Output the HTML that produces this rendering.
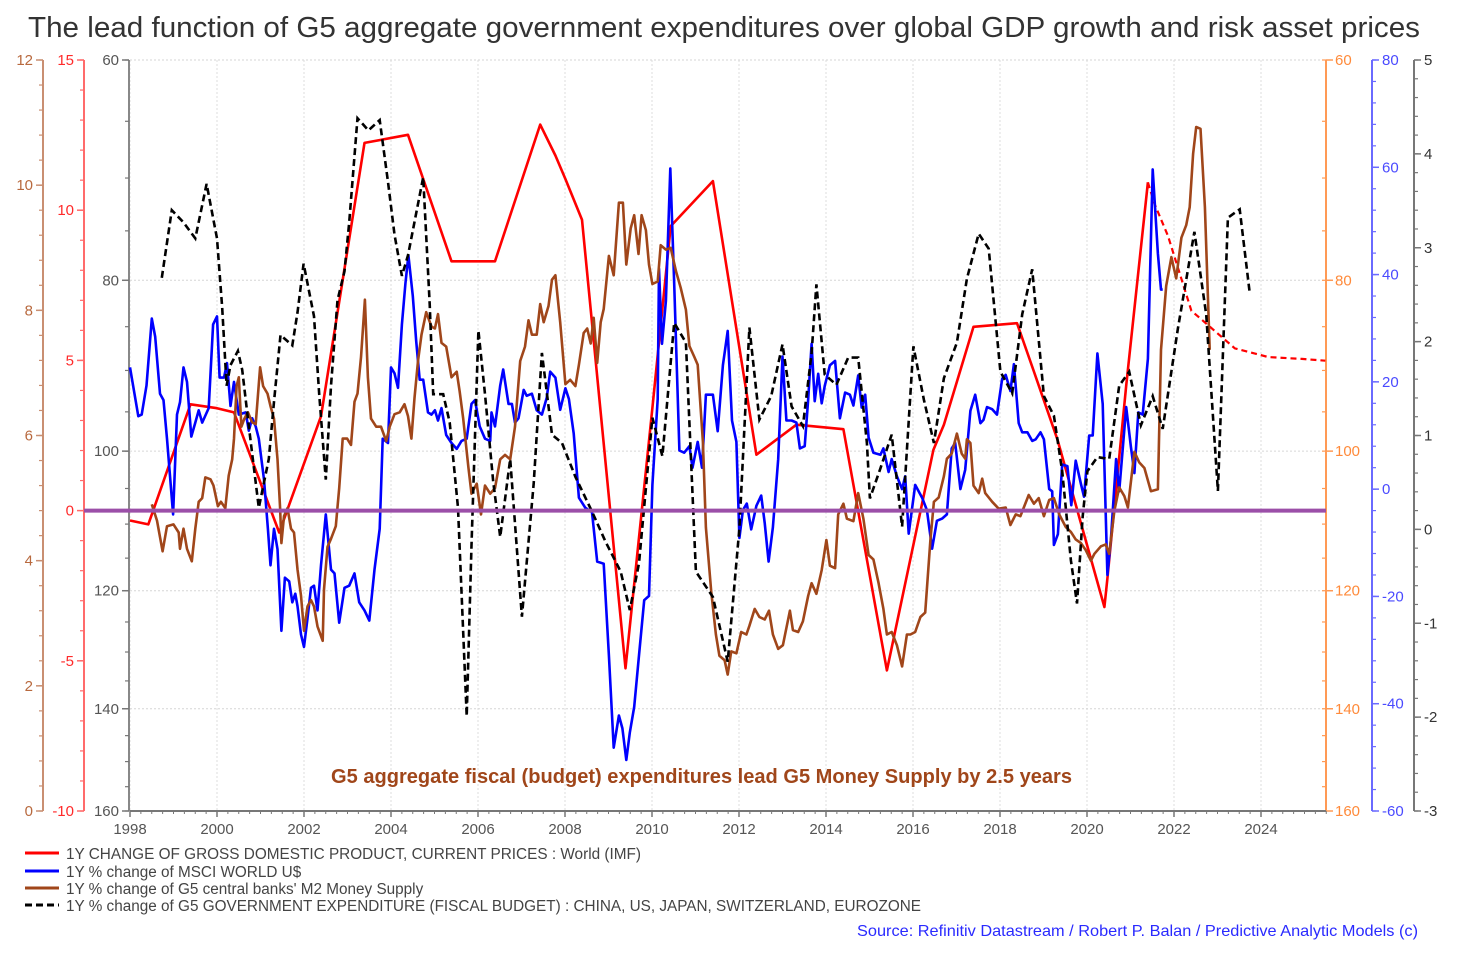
<!DOCTYPE html>
<html><head><meta charset="utf-8"><style>
html,body{margin:0;padding:0;background:#fff;}
body{width:1468px;height:948px;overflow:hidden;font-family:"Liberation Sans",Arial,sans-serif;}
svg text{font-family:"Liberation Sans",Arial,sans-serif;}
</style></head><body>
<svg id="chart" width="1468" height="948" viewBox="0 0 1468 948" xmlns="http://www.w3.org/2000/svg">
<text x="28" y="37" font-size="29" fill="#333" textLength="1392" lengthAdjust="spacingAndGlyphs">The lead function of G5 aggregate government expenditures over global GDP growth and risk asset prices</text>
<g id="grid"></g>
<g id="axes"></g>
<g id="series"></g>
<text x="331" y="783" font-size="20" font-weight="bold" fill="#a0461a" textLength="741" lengthAdjust="spacingAndGlyphs">G5 aggregate fiscal (budget) expenditures lead G5 Money Supply by 2.5 years</text>
<g font-size="15.3" fill="#444">
 <g><line x1="25" y1="853" x2="59" y2="853" stroke="#ff0000" stroke-width="3"/><text x="66" y="859" textLength="575" lengthAdjust="spacingAndGlyphs">1Y CHANGE OF GROSS DOMESTIC PRODUCT, CURRENT PRICES : World (IMF)</text></g>
 <g><line x1="25" y1="871" x2="59" y2="871" stroke="#0000ff" stroke-width="3"/><text x="66" y="877">1Y % change of MSCI WORLD U$</text></g>
 <g><line x1="25" y1="888" x2="59" y2="888" stroke="#a0461a" stroke-width="3"/><text x="66" y="894">1Y % change of G5 central banks' M2 Money Supply</text></g>
 <g><line x1="25" y1="905" x2="59" y2="905" stroke="#000" stroke-width="3" stroke-dasharray="7,4"/><text x="66" y="911" textLength="855" lengthAdjust="spacingAndGlyphs">1Y % change of G5 GOVERNMENT EXPENDITURE (FISCAL BUDGET) : CHINA, US, JAPAN, SWITZERLAND, EUROZONE</text></g>
</g>
<text x="857" y="936" font-size="16" fill="#2a2aff" textLength="561" lengthAdjust="spacingAndGlyphs">Source: Refinitiv Datastream / Robert P. Balan / Predictive Analytic Models (c)</text>
</svg>
<script>
// ---- data ----
const gdpYears=[1998.00,1998.42,1999.39,2000.00,2000.39,2001.43,2002.39,2003.39,2004.39,2005.39,2006.39,2007.43,2007.78,2008.01,2008.39,2009.39,2010.01,2010.43,2011.40,2012.40,2013.32,2014.40,2015.40,2016.47,2016.71,2017.39,2018.39,2018.78,2019.32,2019.78,2020.40,2020.47,2020.90,2021.40];
const gdpValues=[-0.33,-0.46,3.54,3.41,3.27,-0.73,3.14,12.24,12.51,8.30,8.30,12.85,11.82,11.04,9.68,-5.25,3.42,9.47,10.97,1.86,2.86,2.71,-5.32,2.02,2.86,6.12,6.24,4.63,2.37,0.0,-3.21,-2.26,4.16,10.93];
const gdpForecastYears=[2021.40,2021.55,2021.86,2022.40,2022.78,2023.40,2024.17,2024.94,2025.48];
const gdpForecastValues=[10.93,10.22,9.15,6.65,6.18,5.40,5.11,5.05,4.99];

const msciYears=[1998.00,1998.19,1998.27,1998.38,1998.50,1998.58,1998.69,1998.77,1998.85,1998.99,1999.08,1999.15,1999.23,1999.31,1999.41,1999.50,1999.58,1999.66,1999.81,1999.91,2000.00,2000.06,2000.16,2000.23,2000.31,2000.39,2000.50,2000.66,2000.73,2000.81,2000.89,2000.96,2001.08,2001.17,2001.23,2001.31,2001.39,2001.48,2001.56,2001.66,2001.73,2001.80,2001.85,2001.93,2002.00,2002.08,2002.16,2002.23,2002.31,2002.39,2002.50,2002.62,2002.70,2002.81,2002.93,2003.04,2003.16,2003.27,2003.39,2003.50,2003.62,2003.74,2003.81,2003.93,2004.00,2004.08,2004.16,2004.25,2004.33,2004.40,2004.50,2004.58,2004.66,2004.74,2004.85,2004.93,2005.01,2005.08,2005.16,2005.27,2005.39,2005.51,2005.62,2005.74,2005.85,2005.93,2006.04,2006.16,2006.28,2006.31,2006.39,2006.51,2006.58,2006.70,2006.78,2006.85,2006.93,2007.05,2007.12,2007.24,2007.35,2007.47,2007.58,2007.66,2007.78,2007.89,2008.01,2008.09,2008.20,2008.32,2008.47,2008.62,2008.74,2008.89,2009.01,2009.12,2009.24,2009.32,2009.41,2009.49,2009.59,2009.70,2009.82,2009.93,2010.01,2010.13,2010.16,2010.23,2010.32,2010.42,2010.51,2010.63,2010.74,2010.86,2010.93,2011.05,2011.15,2011.24,2011.40,2011.51,2011.63,2011.74,2011.84,2011.94,2012.01,2012.09,2012.18,2012.28,2012.40,2012.51,2012.59,2012.68,2012.78,2012.90,2013.00,2013.09,2013.21,2013.32,2013.40,2013.51,2013.59,2013.67,2013.74,2013.82,2013.90,2013.97,2014.09,2014.21,2014.32,2014.44,2014.55,2014.63,2014.74,2014.82,2014.90,2014.98,2015.09,2015.25,2015.32,2015.44,2015.51,2015.63,2015.75,2015.82,2015.90,2016.05,2016.21,2016.32,2016.44,2016.55,2016.67,2016.78,2016.89,2016.97,2017.09,2017.20,2017.32,2017.43,2017.55,2017.62,2017.70,2017.82,2017.93,2018.05,2018.13,2018.24,2018.32,2018.43,2018.51,2018.63,2018.74,2018.82,2018.93,2019.01,2019.13,2019.20,2019.24,2019.33,2019.43,2019.55,2019.64,2019.74,2019.86,2019.93,2020.05,2020.13,2020.24,2020.36,2020.47,2020.55,2020.67,2020.74,2020.90,2021.01,2021.09,2021.18,2021.28,2021.40,2021.51,2021.63,2021.70,2021.74];
const msciValues=[22.7,13.6,13.9,19.3,31.8,28.4,17.8,16.6,9.4,-4.7,13.9,16.2,22.7,20.0,9.8,12.4,14.7,12.4,15.1,30.7,32.2,20.8,20.8,23.5,15.5,20.0,13.9,14.3,10.9,13.2,11.7,9.4,1.8,-7.4,-14.2,-7.4,-11.2,-26.4,-16.5,-17.2,-21.1,-19.5,-21.8,-27.1,-29.4,-24.1,-18.4,-18.0,-22.6,-14.2,-4.7,-15.0,-15.7,-24.9,-18.4,-18.0,-15.7,-21.1,-22.6,-24.5,-15.0,-7.4,9.4,8.6,22.7,21.6,18.9,30.7,38.3,43.6,36.0,27.6,20.4,20.4,14.3,13.9,14.7,12.8,15.1,10.1,8.6,7.5,9.0,9.4,15.9,16.6,11.7,9.4,9.0,14.3,11.7,19.3,22.3,15.9,15.9,12.4,13.2,18.5,17.4,17.8,14.7,13.9,17.0,21.9,20.8,14.8,18.8,16.8,10.4,-1.6,-3.5,-4.3,-13.5,-13.9,-31.0,-48.2,-42.2,-44.6,-50.5,-45.4,-40.6,-31.0,-20.7,-19.9,0.8,16.8,41.1,27.1,35.1,59.8,38.3,7.2,6.8,8.0,4.0,8.8,4.0,17.6,17.6,10.8,23.1,29.5,12.8,8.8,-9.1,-3.9,-2.7,-7.5,-3.1,-1.2,-6.3,-13.5,-7.1,5.6,24.7,12.8,12.8,12.4,7.6,8.0,16.8,27.1,16.4,21.5,16.0,19.2,23.1,23.9,13.2,18.0,17.6,15.6,21.2,15.2,17.6,9.6,6.8,6.4,7.6,3.2,5.6,2.4,0.0,2.4,-8.3,0.8,-1.6,-3.9,-11.1,-5.9,-5.5,-4.7,7.6,8.6,0.0,3.6,14.6,17.6,12.3,12.9,15.3,14.9,13.9,20.6,21.3,18.3,23.3,12.3,10.6,10.6,9.0,9.3,10.6,9.3,0.0,-0.4,-10.4,-8.4,4.6,4.3,-3.0,5.3,1.0,-1.4,10.0,10.0,25.3,15.9,-16.0,-9.4,5.6,-0.4,15.3,7.9,3.0,14.3,13.9,24.3,59.6,43.9,37.2,37.2];

const m2Years=[1998.50,1998.62,1998.75,1998.85,1999.00,1999.12,1999.15,1999.23,1999.31,1999.42,1999.50,1999.58,1999.66,1999.73,1999.85,1999.92,2000.02,2000.09,2000.19,2000.27,2000.35,2000.39,2000.45,2000.50,2000.56,2000.63,2000.71,2000.81,2000.89,2000.99,2001.06,2001.16,2001.23,2001.31,2001.39,2001.45,2001.48,2001.54,2001.62,2001.70,2001.77,2001.85,2001.93,2002.00,2002.08,2002.16,2002.23,2002.31,2002.43,2002.46,2002.54,2002.62,2002.73,2002.81,2002.89,2002.99,2003.08,2003.16,2003.23,2003.31,2003.40,2003.47,2003.54,2003.66,2003.77,2003.89,2003.97,2004.08,2004.20,2004.31,2004.39,2004.47,2004.54,2004.62,2004.70,2004.81,2004.93,2005.01,2005.08,2005.16,2005.27,2005.39,2005.51,2005.58,2005.66,2005.78,2005.85,2005.97,2006.07,2006.16,2006.28,2006.39,2006.51,2006.62,2006.74,2006.85,2006.97,2007.08,2007.16,2007.24,2007.35,2007.43,2007.51,2007.62,2007.70,2007.78,2007.89,2008.01,2008.12,2008.24,2008.32,2008.43,2008.51,2008.59,2008.66,2008.74,2008.82,2008.89,2009.01,2009.12,2009.24,2009.33,2009.41,2009.51,2009.59,2009.69,2009.76,2009.86,2009.93,2010.01,2010.13,2010.20,2010.32,2010.43,2010.55,2010.66,2010.78,2010.86,2010.97,2011.05,2011.17,2011.24,2011.36,2011.47,2011.55,2011.67,2011.74,2011.82,2011.94,2012.05,2012.17,2012.24,2012.36,2012.47,2012.59,2012.69,2012.78,2012.90,2013.01,2013.17,2013.24,2013.36,2013.47,2013.59,2013.67,2013.78,2013.90,2014.01,2014.09,2014.21,2014.28,2014.40,2014.48,2014.63,2014.74,2014.86,2014.98,2015.09,2015.21,2015.32,2015.40,2015.51,2015.63,2015.75,2015.86,2015.94,2016.05,2016.17,2016.28,2016.40,2016.48,2016.59,2016.71,2016.78,2016.89,2017.01,2017.12,2017.20,2017.24,2017.32,2017.39,2017.51,2017.59,2017.66,2017.82,2017.97,2018.13,2018.24,2018.36,2018.47,2018.66,2018.78,2018.89,2019.01,2019.13,2019.24,2019.36,2019.51,2019.63,2019.74,2019.86,2019.97,2020.09,2020.17,2020.32,2020.43,2020.51,2020.63,2020.74,2020.86,2020.94,2021.09,2021.20,2021.32,2021.47,2021.63,2021.70,2021.82,2021.94,2022.05,2022.17,2022.28,2022.36,2022.44,2022.51,2022.61,2022.71,2022.82];
const m2Values=[4.90,4.64,4.15,4.55,4.58,4.45,4.19,4.51,4.19,3.99,4.51,4.94,5.00,5.33,5.30,5.20,4.87,4.94,4.84,5.36,5.62,5.95,6.79,6.93,6.14,6.27,6.37,6.21,6.18,7.09,6.79,6.67,6.47,6.27,5.62,4.84,4.28,4.71,4.84,4.51,4.45,3.86,3.44,2.88,3.27,3.37,3.27,2.95,2.72,3.54,4.22,4.35,4.55,5.16,5.95,5.95,5.85,6.54,6.67,7.25,8.17,6.93,6.27,6.14,6.14,5.91,6.14,6.34,6.37,6.50,6.31,5.95,6.60,7.19,7.61,7.97,7.74,7.71,7.94,7.48,7.42,6.93,7.02,6.70,6.27,5.49,5.07,5.23,4.74,5.20,5.07,5.16,5.62,5.69,5.62,6.14,7.19,7.42,7.84,7.61,7.61,8.10,7.81,8.07,8.49,8.56,7.81,6.82,6.89,6.79,7.13,7.64,7.71,7.47,7.88,7.16,7.81,8.02,8.87,8.56,9.72,9.72,8.73,9.31,9.52,8.90,9.52,9.28,8.73,8.42,8.46,9.04,8.97,9.00,8.63,8.36,8.01,7.43,7.26,7.13,5.90,4.53,3.51,2.82,2.48,2.41,2.18,2.55,2.52,2.86,2.82,2.96,3.23,3.10,3.06,3.20,2.82,2.59,2.65,3.20,2.89,2.86,3.03,3.44,3.64,3.47,3.85,4.33,3.92,3.88,4.74,4.91,4.67,4.63,5.08,4.67,4.09,4.02,3.64,3.23,2.82,2.86,2.65,2.31,2.82,2.82,2.86,3.10,3.17,4.33,4.94,5.01,5.35,5.63,5.71,6.03,5.71,5.63,5.94,5.88,5.20,5.08,5.31,5.08,4.94,4.83,4.85,4.57,4.74,4.71,5.05,4.91,5.00,4.71,4.97,5.00,4.74,4.54,4.46,4.34,4.28,4.17,4.00,4.11,4.23,4.26,4.11,4.80,5.17,5.03,4.85,5.74,5.57,5.48,5.11,5.14,7.37,8.39,8.85,8.51,9.16,9.36,9.65,10.50,10.93,10.90,9.65,7.37];

const expYears=[1998.73,1998.96,1999.23,1999.50,1999.76,2000.00,2000.12,2000.22,2000.31,2000.48,2000.58,2000.73,2000.96,2001.19,2001.31,2001.46,2001.73,2001.85,2001.99,2002.23,2002.35,2002.50,2002.62,2002.77,2002.93,2003.04,2003.23,2003.48,2003.74,2003.93,2004.08,2004.25,2004.39,2004.74,2004.89,2004.97,2005.20,2005.35,2005.54,2005.74,2005.85,2006.01,2006.16,2006.35,2006.51,2006.74,2007.01,2007.28,2007.47,2007.70,2007.93,2008.24,2008.62,2008.93,2009.28,2009.49,2009.70,2010.01,2010.24,2010.51,2010.78,2011.01,2011.40,2011.74,2012.01,2012.24,2012.47,2012.74,2013.00,2013.21,2013.47,2013.67,2013.78,2013.97,2014.24,2014.51,2014.74,2014.94,2015.01,2015.25,2015.51,2015.75,2016.01,2016.25,2016.48,2016.71,2017.01,2017.24,2017.51,2017.74,2018.01,2018.28,2018.51,2018.74,2019.01,2019.24,2019.43,2019.63,2019.77,2019.90,2020.01,2020.24,2020.51,2020.74,2020.97,2021.24,2021.51,2021.74,2022.09,2022.47,2022.74,2023.01,2023.24,2023.51,2023.74];
const expValues=[2.68,3.40,3.27,3.10,3.68,3.10,2.36,1.53,1.75,1.90,1.70,1.10,0.23,0.75,1.36,2.07,1.96,2.31,2.83,2.27,1.44,0.53,1.53,2.44,2.75,3.27,4.38,4.25,4.36,3.70,3.14,2.70,2.92,3.75,2.40,1.44,1.44,1.14,0.23,-1.99,-0.17,2.12,1.44,0.51,-0.08,0.75,-0.93,0.49,1.88,1.01,0.92,0.56,0.19,-0.13,-0.45,-0.86,-0.36,1.19,0.78,2.20,1.99,-0.45,-0.72,-1.41,0.01,2.15,1.17,1.42,1.97,1.31,1.10,1.88,2.61,1.65,1.54,1.83,1.83,0.92,0.33,0.65,1.01,0.03,1.95,1.38,0.92,1.61,1.99,2.67,3.15,2.99,1.68,1.45,2.29,2.77,1.42,1.21,0.62,-0.33,-0.79,0.14,0.62,0.77,0.75,1.53,1.68,1.11,1.42,1.07,2.14,3.17,2.29,0.41,3.32,3.41,2.52];

// ticks
const xTickYears=[1998,2000,2002,2004,2006,2008,2010,2012,2014,2016,2018,2020,2022,2024];
const brownTicks=[0,2,4,6,8,10,12];
const redTicks=[-10,-5,0,5,10,15];
const greyTicks=[60,80,100,120,140,160];
const blueTicks=[-60,-40,-20,0,20,40,60,80];
const blackTicks=[-3,-2,-1,0,1,2,3,4,5];

// ---- scales ----
const PL=130,PR=1326,PT=60,PB=811,H=PB-PT;
function xS(y){return PL+(y-1998)*43.5;}
function yBrown(v){return PB-v/12*H;}
function yRed(v){return PB-(v+10)/25*H;}
function yGrey(v){return PT+Math.log(v/60)/Math.log(160/60)*H;}
function yBlue(v){return PB-(v+60)/140*H;}
function yBlack(v){return PB-(v+3)/8*H;}

const NS='http://www.w3.org/2000/svg';
function mk(parent,tag,attrs,txt){const e=document.createElementNS(NS,tag);for(const k in attrs)e.setAttribute(k,attrs[k]);if(txt!==undefined)e.textContent=txt;parent.appendChild(e);return e;}
const grid=document.getElementById('grid'),axes=document.getElementById('axes'),series=document.getElementById('series');

// gridlines
xTickYears.forEach(function(yr){
  const g=mk(grid,'line',{x1:xS(yr),x2:xS(yr),y1:PT,y2:PB,stroke:'#dcdcdc','stroke-width':1,'stroke-dasharray':'2,2'});
  
  
});
greyTicks.slice(0,5).forEach(function(v){
  const g=mk(grid,'line',{x1:PL,x2:PR,y1:yGrey(v),y2:yGrey(v),stroke:'#d6d6d6','stroke-width':1,'stroke-dasharray':'2,2'});
  
  
});

function vAxis(name,x,scale,ticks,minorStep,lo,hi,lineCol,labCol,side){
  const g=mk(axes,'g',{});
  
  
  mk(g,'line',{x1:x,x2:x,y1:PT,y2:PB,stroke:lineCol,'stroke-width':2});
  const d=side<0?-1:1;
  for(let v=lo;v<=hi+1e-9;v+=minorStep){mk(g,'line',{x1:x,x2:x+d*4,y1:scale(v),y2:scale(v),stroke:lineCol,'stroke-width':1.2});}
  ticks.forEach(function(v){
    mk(g,'line',{x1:x,x2:x+d*7,y1:scale(v),y2:scale(v),stroke:lineCol,'stroke-width':1.5});
    const t=mk(g,'text',{x:x+d*10,y:scale(v)+5,'text-anchor':side<0?'end':'start','font-size':15,fill:labCol},String(v));
    
    
  });
}
vAxis('m2-axis',43,yBrown,brownTicks,0.4,0,12,'#c98f72','#b8693e',-1);
vAxis('gdp-axis',84,yRed,redTicks,1,-10,15,'#ff6b6b','#ff2a2a',-1);
(function(){
  const g=mk(axes,'g',{});
  
  
  mk(g,'line',{x1:129,x2:129,y1:PT,y2:PB,stroke:'#888','stroke-width':2});
  for(let v=60;v<=160;v+=5){mk(g,'line',{x1:129,x2:125,y1:yGrey(v),y2:yGrey(v),stroke:'#777','stroke-width':1.2});}
  greyTicks.forEach(function(v){
    mk(g,'line',{x1:129,x2:122,y1:yGrey(v),y2:yGrey(v),stroke:'#777','stroke-width':1.5});
    const t=mk(g,'text',{x:119,y:yGrey(v)+5,'text-anchor':'end','font-size':15,fill:'#555'},String(v));
    
    
  });
})();
(function(){
  const g=mk(axes,'g',{});
  
  
  mk(g,'line',{x1:1326,x2:1326,y1:PT,y2:PB,stroke:'#ff9a55','stroke-width':2});
  for(let v=60;v<=160;v+=5){mk(g,'line',{x1:1326,x2:1322,y1:yGrey(v),y2:yGrey(v),stroke:'#ff9a55','stroke-width':1.2});}
  greyTicks.forEach(function(v){
    mk(g,'line',{x1:1326,x2:1333,y1:yGrey(v),y2:yGrey(v),stroke:'#ff9a55','stroke-width':1.5});
    const t=mk(g,'text',{x:1335,y:yGrey(v)+5,'font-size':15,fill:'#ff8a3a'},String(v));
    
    
  });
})();
vAxis('msci-axis',1372,yBlue,blueTicks,4,-60,80,'#6a6aff','#4a4aff',1);
vAxis('expenditure-axis',1414,yBlack,blackTicks,0.2,-3,5,'#777','#333',1);

(function(){
  const g=mk(axes,'g',{});
  
  
  mk(g,'line',{x1:PL,x2:PR,y1:PB,y2:PB,stroke:'#777','stroke-width':2});
  for(let y=1998;y<=2025.5;y+=0.25){mk(g,'line',{x1:xS(y),x2:xS(y),y1:PB,y2:PB+3,stroke:'#777','stroke-width':1});}
  xTickYears.forEach(function(yr){
    mk(g,'line',{x1:xS(yr),x2:xS(yr),y1:PB,y2:PB+6,stroke:'#777','stroke-width':1.5});
    const t=mk(g,'text',{x:xS(yr),y:PB+23,'text-anchor':'middle','font-size':15,fill:'#555'},String(yr));
    
    
  });
})();

function path(xs,vs,scale){let d='';for(let i=0;i<xs.length;i++){d+=(i?'L':'M')+xS(xs[i]).toFixed(1)+','+scale(vs[i]).toFixed(1);}return d;}

const gdpLine=mk(series,'path',{d:path(gdpYears,gdpValues,yRed),fill:'none',stroke:'#ff0000','stroke-width':2.6,'stroke-linejoin':'round'});


const gdpF=mk(series,'path',{d:path(gdpForecastYears,gdpForecastValues,yRed),fill:'none',stroke:'#ff0000','stroke-width':2.2,'stroke-dasharray':'6,4'});


const msciLine=mk(series,'path',{d:path(msciYears,msciValues,yBlue),fill:'none',stroke:'#0000ff','stroke-width':2.6,'stroke-linejoin':'round'});


const m2Line=mk(series,'path',{d:path(m2Years,m2Values,yBrown),fill:'none',stroke:'#a0461a','stroke-width':2.6,'stroke-linejoin':'round'});


const expLine=mk(series,'path',{d:path(expYears,expValues,yBlack),fill:'none',stroke:'#000','stroke-width':2.6,'stroke-dasharray':'7,4'});


const zero=mk(series,'line',{x1:84,x2:PR,y1:yRed(0),y2:yRed(0),stroke:'#9b4fa8','stroke-width':4});


</script>
</body></html>
